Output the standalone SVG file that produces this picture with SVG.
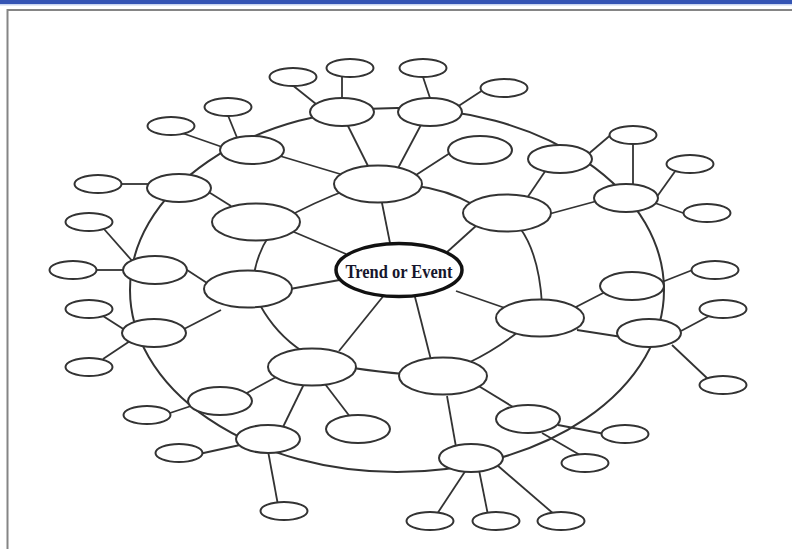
<svg xmlns="http://www.w3.org/2000/svg" width="792" height="549" viewBox="0 0 792 549">
<style>
.ring{fill:none;stroke:#333;stroke-width:2}
.ln{fill:none;stroke:#333;stroke-width:1.8;stroke-linecap:butt}
.nd{fill:#fff;stroke:#333;stroke-width:2}
.ctr{fill:#fff;stroke:#111;stroke-width:3.5}
.lbl{font-family:"Liberation Serif","Times New Roman",serif;font-weight:bold;font-size:19px;fill:#16162c}
</style>
<rect x="0" y="0" width="792" height="549" fill="#fff"/>
<g id="frame">
<rect x="0" y="0" width="792" height="4" fill="#3454b4"/>
<rect x="0" y="4" width="792" height="1.5" fill="#c8d4f0"/>
<path d="M7.5 549 V10 H792" fill="none" stroke="#858585" stroke-width="2"/>
</g>
<g id="connectors">
<ellipse class="ring" cx="397" cy="290" rx="267" ry="182"/>
<path class="ln" d="M280 221 Q314 202 352 188"/>
<path class="ln" d="M416 186 Q446 189 476 206"/>
<path class="ln" d="M520 228 Q539 254 542 304"/>
<path class="ln" d="M518 332 Q495 350 468 363"/>
<path class="ln" d="M404 374 Q380 372 353 368"/>
<path class="ln" d="M302 351 Q276 334 260 305"/>
<path class="ln" d="M254 274 Q258 252 269 236"/>
<path class="ln" d="M381 198 L391 248"/>
<path class="ln" d="M446 253 L477 225"/>
<path class="ln" d="M456 291 L505 308"/>
<path class="ln" d="M414 293 L431 360"/>
<path class="ln" d="M385 294 L339 351"/>
<path class="ln" d="M290 289 L345 279"/>
<path class="ln" d="M294 232 L346 254"/>
<path class="ln" d="M342 75 L342 101"/>
<path class="ln" d="M291 84 L316 104"/>
<path class="ln" d="M422 74 L431 101"/>
<path class="ln" d="M483 90 L457 107"/>
<path class="ln" d="M227 113 L238 140"/>
<path class="ln" d="M182 133 L225 148"/>
<path class="ln" d="M119 184 L151 184"/>
<path class="ln" d="M104 229 L134 263"/>
<path class="ln" d="M94 270 L126 270"/>
<path class="ln" d="M103 316 L128 332"/>
<path class="ln" d="M103 359 L130 341"/>
<path class="ln" d="M167 414 L191 406"/>
<path class="ln" d="M199 454 L240 445"/>
<path class="ln" d="M268 451 L278 505"/>
<path class="ln" d="M466 470 L437 514"/>
<path class="ln" d="M479 470 L488 515"/>
<path class="ln" d="M497 465 L555 515"/>
<path class="ln" d="M542 433 L580 455"/>
<path class="ln" d="M558 425 L605 434"/>
<path class="ln" d="M672 345 L708 379"/>
<path class="ln" d="M681 331 L709 316"/>
<path class="ln" d="M695 269 L662 282"/>
<path class="ln" d="M655 203 L686 214"/>
<path class="ln" d="M656 198 L676 170"/>
<path class="ln" d="M633 141 L633 187"/>
<path class="ln" d="M586 156 L613 133"/>
<path class="ln" d="M346 122 L369 168"/>
<path class="ln" d="M422 123 L397 170"/>
<path class="ln" d="M280 156 L340 174"/>
<path class="ln" d="M416 175 L450 153"/>
<path class="ln" d="M546 170 L527 198"/>
<path class="ln" d="M549 214 L597 201"/>
<path class="ln" d="M574 308 L607 291"/>
<path class="ln" d="M577 330 L622 337"/>
<path class="ln" d="M477 385 L513 407"/>
<path class="ln" d="M447 396 L456 447"/>
<path class="ln" d="M304 384 L283 427"/>
<path class="ln" d="M278 376 L245 394"/>
<path class="ln" d="M325 384 L351 418"/>
<path class="ln" d="M184 329 L221 310"/>
<path class="ln" d="M184 268 L207 283"/>
<path class="ln" d="M207 191 L231 206"/>
</g>
<g id="center"><ellipse class="ctr" cx="399" cy="270" rx="63" ry="26.5"/><text class="lbl" x="399" y="278" text-anchor="middle" textLength="107" lengthAdjust="spacingAndGlyphs">Trend or Event</text></g>
<g id="a1"><ellipse class="nd" cx="378" cy="184" rx="44" ry="18.5"/></g>
<g id="a2"><ellipse class="nd" cx="507" cy="213" rx="44" ry="18.5"/></g>
<g id="a3"><ellipse class="nd" cx="540" cy="318" rx="44" ry="18.5"/></g>
<g id="a4"><ellipse class="nd" cx="443" cy="376" rx="44" ry="18.5"/></g>
<g id="a5"><ellipse class="nd" cx="312" cy="367" rx="44" ry="18.5"/></g>
<g id="a6"><ellipse class="nd" cx="248" cy="289" rx="44" ry="18.5"/></g>
<g id="a7"><ellipse class="nd" cx="256" cy="222" rx="44" ry="18.5"/></g>
<g id="b1"><ellipse class="nd" cx="342" cy="112" rx="32" ry="14"/></g>
<g id="b2"><ellipse class="nd" cx="430" cy="112" rx="32" ry="14"/></g>
<g id="b3"><ellipse class="nd" cx="560" cy="159" rx="32" ry="14"/></g>
<g id="b4"><ellipse class="nd" cx="626" cy="198" rx="32" ry="14"/></g>
<g id="b5"><ellipse class="nd" cx="632" cy="286" rx="32" ry="14"/></g>
<g id="b6"><ellipse class="nd" cx="649" cy="333" rx="32" ry="14"/></g>
<g id="b7"><ellipse class="nd" cx="528" cy="419" rx="32" ry="14"/></g>
<g id="b8"><ellipse class="nd" cx="471" cy="458" rx="32" ry="14"/></g>
<g id="b9"><ellipse class="nd" cx="268" cy="439" rx="32" ry="14"/></g>
<g id="b10"><ellipse class="nd" cx="220" cy="401" rx="32" ry="14"/></g>
<g id="b11"><ellipse class="nd" cx="154" cy="333" rx="32" ry="14"/></g>
<g id="b12"><ellipse class="nd" cx="155" cy="270" rx="32" ry="14"/></g>
<g id="b13"><ellipse class="nd" cx="179" cy="188" rx="32" ry="14"/></g>
<g id="b14"><ellipse class="nd" cx="252" cy="150" rx="32" ry="14"/></g>
<g id="c1"><ellipse class="nd" cx="480" cy="150" rx="32" ry="14"/></g>
<g id="c2"><ellipse class="nd" cx="358" cy="429" rx="32" ry="14"/></g>
<g id="l1"><ellipse class="nd" cx="350" cy="68" rx="23.5" ry="9"/></g>
<g id="l2"><ellipse class="nd" cx="293" cy="77" rx="23.5" ry="9"/></g>
<g id="l3"><ellipse class="nd" cx="228" cy="107" rx="23.5" ry="9"/></g>
<g id="l4"><ellipse class="nd" cx="171" cy="126" rx="23.5" ry="9"/></g>
<g id="l5"><ellipse class="nd" cx="98" cy="184" rx="23.5" ry="9"/></g>
<g id="l6"><ellipse class="nd" cx="89" cy="222" rx="23.5" ry="9"/></g>
<g id="l7"><ellipse class="nd" cx="73" cy="270" rx="23.5" ry="9"/></g>
<g id="l8"><ellipse class="nd" cx="89" cy="309" rx="23.5" ry="9"/></g>
<g id="l9"><ellipse class="nd" cx="89" cy="367" rx="23.5" ry="9"/></g>
<g id="l10"><ellipse class="nd" cx="147" cy="415" rx="23.5" ry="9"/></g>
<g id="l11"><ellipse class="nd" cx="179" cy="453" rx="23.5" ry="9"/></g>
<g id="l12"><ellipse class="nd" cx="284" cy="511" rx="23.5" ry="9"/></g>
<g id="l13"><ellipse class="nd" cx="430" cy="521" rx="23.5" ry="9"/></g>
<g id="l14"><ellipse class="nd" cx="496" cy="521" rx="23.5" ry="9"/></g>
<g id="l15"><ellipse class="nd" cx="561" cy="521" rx="23.5" ry="9"/></g>
<g id="l16"><ellipse class="nd" cx="585" cy="463" rx="23.5" ry="9"/></g>
<g id="l17"><ellipse class="nd" cx="625" cy="434" rx="23.5" ry="9"/></g>
<g id="l18"><ellipse class="nd" cx="723" cy="385" rx="23.5" ry="9"/></g>
<g id="l19"><ellipse class="nd" cx="723" cy="309" rx="23.5" ry="9"/></g>
<g id="l20"><ellipse class="nd" cx="423" cy="68" rx="23.5" ry="9"/></g>
<g id="l21"><ellipse class="nd" cx="504" cy="88" rx="23.5" ry="9"/></g>
<g id="l22"><ellipse class="nd" cx="633" cy="135" rx="23.5" ry="9"/></g>
<g id="l23"><ellipse class="nd" cx="690" cy="164" rx="23.5" ry="9"/></g>
<g id="l24"><ellipse class="nd" cx="707" cy="213" rx="23.5" ry="9"/></g>
<g id="l25"><ellipse class="nd" cx="715" cy="270" rx="23.5" ry="9"/></g>
</svg>
